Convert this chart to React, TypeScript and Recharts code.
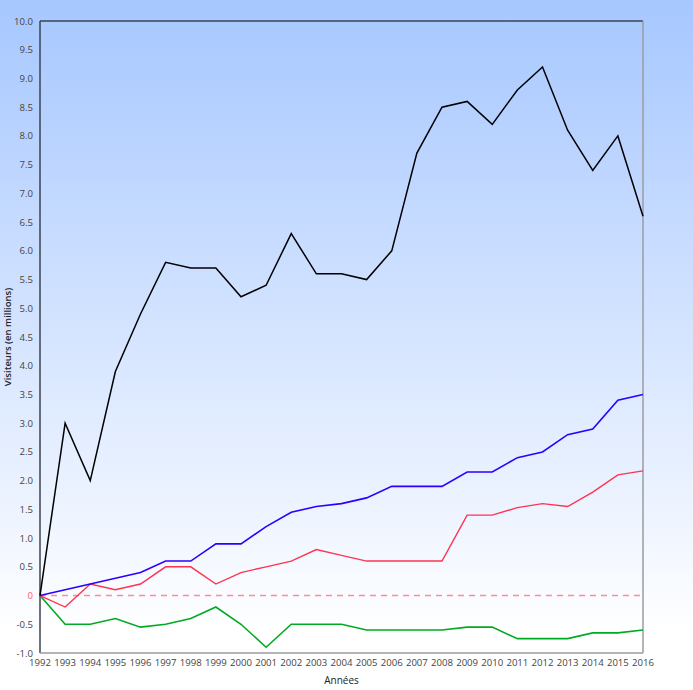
import React from 'react';
import { LineChart, Line, XAxis, YAxis, ReferenceLine } from 'recharts';

const years = [
  1992, 1993, 1994, 1995, 1996, 1997, 1998, 1999, 2000, 2001, 2002, 2003, 2004,
  2005, 2006, 2007, 2008, 2009, 2010, 2011, 2012, 2013, 2014, 2015, 2016,
];

const blackSeries = [
  0, 3.0, 2.0, 3.9, 4.9, 5.8, 5.7, 5.7, 5.2, 5.4, 6.3, 5.6, 5.6,
  5.5, 6.0, 7.7, 8.5, 8.6, 8.2, 8.8, 9.2, 8.1, 7.4, 8.0, 6.6,
];
const blueSeries = [
  0, 0.1, 0.2, 0.3, 0.4, 0.6, 0.6, 0.9, 0.9, 1.2, 1.45, 1.55, 1.6,
  1.7, 1.9, 1.9, 1.9, 2.15, 2.15, 2.4, 2.5, 2.8, 2.9, 3.4, 3.5,
];
const redSeries = [
  0, -0.2, 0.2, 0.1, 0.2, 0.5, 0.5, 0.2, 0.4, 0.5, 0.6, 0.8, 0.7,
  0.6, 0.6, 0.6, 0.6, 1.4, 1.4, 1.53, 1.6, 1.55, 1.8, 2.1, 2.17,
];
const greenSeries = [
  0, -0.5, -0.5, -0.4, -0.55, -0.5, -0.4, -0.2, -0.5, -0.9, -0.5, -0.5, -0.5,
  -0.6, -0.6, -0.6, -0.6, -0.55, -0.55, -0.75, -0.75, -0.75, -0.65, -0.65, -0.6,
];

const yTicks = [
  -1, -0.5, 0, 0.5, 1, 1.5, 2, 2.5, 3, 3.5, 4, 4.5, 5, 5.5, 6, 6.5, 7, 7.5, 8, 8.5, 9, 9.5, 10,
];

const data = years.map((year, i) => ({
  year,
  black: blackSeries[i],
  blue: blueSeries[i],
  red: redSeries[i],
  green: greenSeries[i],
}));

const FONT = '"Open Sans", sans-serif';
const TICK_SIZE = 9.6;

const YTick = (props: any) => {
  const { x, y, payload } = props;
  const v = payload.value;
  const label = v === 0 ? '0' : v.toFixed(1);
  return (
    <text
      x={x}
      y={y}
      dy={3.5}
      textAnchor="end"
      fontSize={TICK_SIZE}
      fontFamily={FONT}
      fill={v === 0 ? '#ff5a6e' : '#444'}
    >
      {label}
    </text>
  );
};

const App: React.FC = () => {
  return (
    <div
      style={{
        position: 'absolute',
        top: 0,
        left: 0,
        width: 693,
        height: 690,
        background: 'linear-gradient(#a6c7ff 0%, #ffffff 92%)',
      }}
    >
      <LineChart
        width={693}
        height={690}
        data={data}
        margin={{ top: 21, right: 50, left: 0, bottom: 0 }}
      >
        <XAxis
          dataKey="year"
          type="number"
          domain={[1992, 2016]}
          ticks={years}
          interval={0}
          height={37}
          axisLine={false}
          tickLine={false}
          tickSize={0}
          tickMargin={6}
          tick={{ fontSize: TICK_SIZE, fontFamily: FONT, fill: '#444' }}
          label={{
            value: 'Années',
            position: 'insideBottom',
            offset: 6,
            style: { fontSize: 10, fontFamily: FONT, fill: '#222' },
          }}
        />
        <YAxis
          type="number"
          domain={[-1, 10]}
          ticks={yTicks}
          interval={0}
          width={40}
          axisLine={false}
          tickLine={false}
          tickSize={0}
          tickMargin={7}
          tick={<YTick />}
          label={{
            value: 'Visiteurs (en millions)',
            angle: -90,
            position: 'insideLeft',
            offset: 8,
            style: { fontSize: 9.5, fontFamily: FONT, fill: '#222', fontWeight: 600, textAnchor: 'middle' },
          }}
        />
        <ReferenceLine y={0} stroke="#ff8a94" strokeDasharray="6 5" strokeWidth={1.5} />
        <ReferenceLine y={10} stroke="#3a4450" strokeWidth={1.5} ifOverflow="visible" />
        <ReferenceLine x={1992} stroke="#3a4450" strokeWidth={1.5} ifOverflow="visible" />
        <ReferenceLine y={-1} stroke="#9a9c9e" strokeWidth={1.5} ifOverflow="visible" />
        <ReferenceLine x={2016} stroke="#9a9c9e" strokeWidth={1.5} ifOverflow="visible" />
        <Line type="linear" dataKey="green" stroke="#00aa22" strokeWidth={1.6} dot={false} isAnimationActive={false} />
        <Line type="linear" dataKey="red" stroke="#ff3350" strokeWidth={1.4} dot={false} isAnimationActive={false} />
        <Line type="linear" dataKey="blue" stroke="#2a00ff" strokeWidth={1.6} dot={false} isAnimationActive={false} />
        <Line type="linear" dataKey="black" stroke="#000000" strokeWidth={1.5} dot={false} isAnimationActive={false} />
      </LineChart>
    </div>
  );
};

export default App;
